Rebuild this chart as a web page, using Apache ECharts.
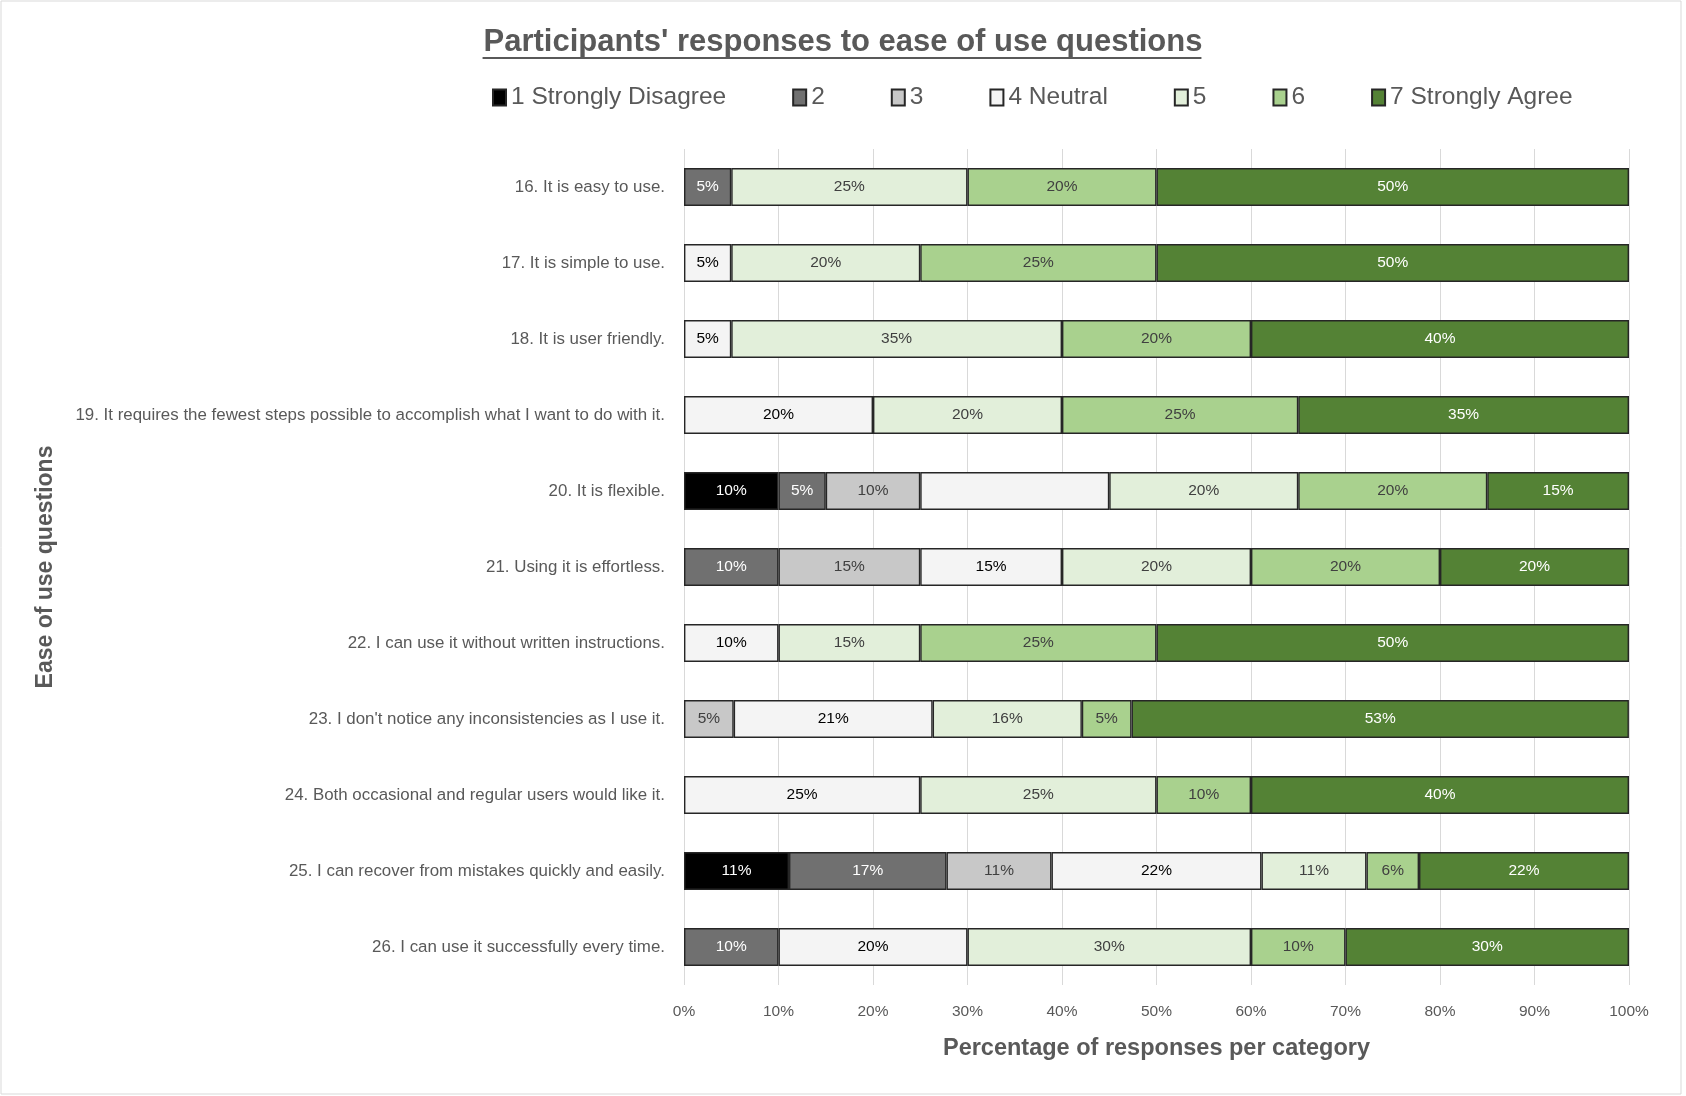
<!DOCTYPE html>
<html>
<head>
<meta charset="utf-8">
<script src="https://cdn.jsdelivr.net/npm/echarts@6/dist/echarts.min.js"></script>
<style>
html,body{margin:0;padding:0;background:#fff;}
#c{width:1686px;height:1096px;}
</style>
</head>
<body>
<div id="c"></div>
<script>
const questions = [
  "16. It is easy to use.",
  "17. It is simple to use.",
  "18. It is user friendly.",
  "19. It requires the fewest steps possible to accomplish what I want to do with it.",
  "20. It is flexible.",
  "21. Using it is effortless.",
  "22. I can use it without written instructions.",
  "23. I don't notice any inconsistencies as I use it.",
  "24. Both occasional and regular users would like it.",
  "25. I can recover from mistakes quickly and easily.",
  "26. I can use it successfully every time."
];
const seriesNames = ["1 Strongly Disagree","2","3","4 Neutral","5","6","7 Strongly Agree"];
const s1 = [0, 0, 0, 0, 10, 0, 0, 0, 0, 11.11, 0];
const s2 = [5, 0, 0, 0, 5, 10, 0, 0, 0, 16.67, 10];
const s3 = [0, 0, 0, 0, 10, 15, 0, 5.26, 0, 11.11, 0];
const s4 = [0, 5, 5, 20, 20, 15, 10, 21.05, 25, 22.22, 20];
const s5 = [25, 20, 35, 20, 20, 20, 15, 15.79, 25, 11.11, 30];
const s6 = [20, 25, 20, 25, 20, 20, 25, 5.26, 10, 5.56, 10];
const s7 = [50, 50, 40, 35, 15, 20, 50, 52.63, 40, 22.22, 30];
// cells whose data label is absent in the reference: [seriesIndex, categoryIndex]
const hiddenLabels = [[3, 4]];
const xTicks = [0,10,20,30,40,50,60,70,80,90,100];

const seriesData = [s1,s2,s3,s4,s5,s6,s7];
const colors = ["#000000","#707070","#c8c8c8","#f4f4f4","#e2efda","#a9d18e","#548235"];
const labelColors = ["#ffffff","#ffffff","#404040","#000000","#404040","#404040","#ffffff"];

const titleText = "Participants' responses to ease of use questions";
const titleSize = 31;
const cv = document.createElement('canvas').getContext('2d');
cv.font = "bold " + titleSize + "px 'Liberation Sans'";
const tw = cv.measureText(titleText).width;
const titleCx = 842;

const chart = echarts.init(document.getElementById('c'), null, {renderer:'canvas'});
const option = {
  backgroundColor: '#ffffff',
  animation: false,
  title: {
    text: titleText,
    left: 'center',
    top: 22,
    textStyle: {fontFamily:'Liberation Sans', fontWeight:'bold', fontSize:titleSize, color:'#595959'}
  },
  legend: {
    left: 487,
    top: 80,
    itemWidth: 13,
    itemHeight: 16,
    itemGap: 66,
    icon: 'rect',
    textStyle: {fontFamily:'Liberation Sans', fontSize:24.5, color:'#595959'},
    data: seriesNames
  },
  graphic: [
    {type:'line', shape:{x1:titleCx - tw/2, y1:58, x2:titleCx + tw/2, y2:58}, style:{stroke:'#595959', lineWidth:2}},
    {type:'rect', shape:{x:1, y:1, width:1680, height:1093}, style:{fill:null, stroke:'#d9d9d9', lineWidth:1}}
  ],
  grid: {left:684, right:57, top:149, bottom:111},
  xAxis: {
    type:'value', min:0, max:100, interval:10,
    name:'Percentage of responses per category',
    nameLocation:'middle', nameGap:52,
    nameTextStyle:{fontFamily:'Liberation Sans', fontWeight:'bold', fontSize:23.5, color:'#595959'},
    axisLine:{show:false}, axisTick:{show:false},
    splitLine:{show:true, lineStyle:{color:'#d9d9d9', width:1}},
    axisLabel:{fontFamily:'Liberation Sans', fontSize:15.5, color:'#595959', margin:19,
      formatter: v => xTicks.includes(v) ? v + '%' : ''}
  },
  yAxis: {
    type:'category', inverse:true, data:questions,
    name:'Ease of use questions',
    nameLocation:'middle', nameGap:627, nameRotate:90,
    nameTextStyle:{fontFamily:'Liberation Sans', fontWeight:'bold', fontSize:23, color:'#595959'},
    axisLine:{show:false}, axisTick:{show:false},
    axisLabel:{fontFamily:'Liberation Sans', fontSize:16.9, color:'#595959', margin:19, padding:[3,0,0,0]}
  },
  series: seriesData.map((arr, si) => ({
    name: seriesNames[si],
    type:'bar',
    stack:'all',
    barWidth:'50%',
    itemStyle:{color:colors[si], borderColor:'#262626', borderWidth:1.4},
    label:{
      show:true, position:'inside',
      fontFamily:'Liberation Sans', fontSize:15.5, color:labelColors[si],
      formatter: p => Math.round(p.value) + '%'
    },
    data: arr.map((v, ci) => {
      if (!v) return '-';
      const hide = hiddenLabels.some(h => h[0] === si && h[1] === ci);
      return hide ? {value:v, label:{show:false}} : v;
    })
  }))
};
chart.setOption(option);
</script>
</body>
</html>
